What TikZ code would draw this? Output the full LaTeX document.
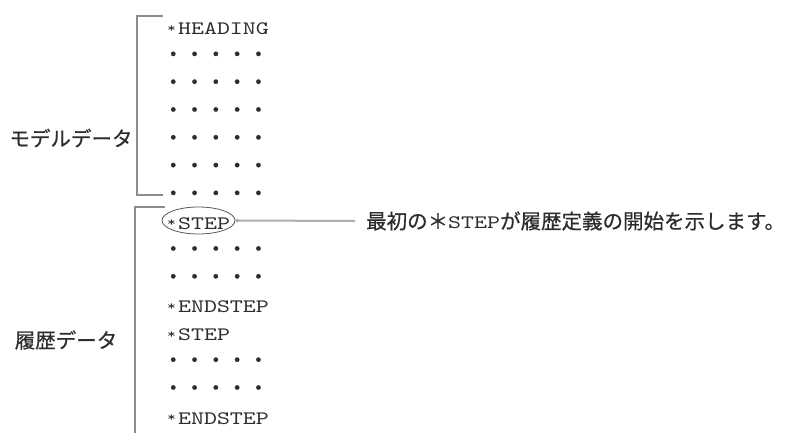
\documentclass[tikz,border=0pt]{standalone}
\usepackage{fontspec}
\usepackage{tikz}
\usetikzlibrary{arrows.meta,positioning,calc,shapes.geometric}
\newfontfamily\cjk[FakeBold=0.6]{Noto Sans CJK JP}
\newfontfamily\mono[FakeStretch=1.3]{lmmono10-regular.otf}
\newcommand\kwstar{\makebox[12.9pt][c]{\fontsize{13}{13}\selectfont\raisebox{2.5pt}{*}}}
\definecolor{brk}{RGB}{140,140,140}
\definecolor{ink}{RGB}{45,45,45}

\begin{document}
\begin{tikzpicture}[x=1pt,y=-1pt,
  kw/.style={anchor=west,inner sep=0pt,text=ink,font=\mono\fontsize{19}{22}\selectfont},
  dotrow/.style={anchor=west,inner sep=0pt,text=ink,font=\cjk\fontsize{21.3}{22}\selectfont},
  side/.style={inner sep=0pt,text=ink,font=\cjk\fontsize{20.5}{22}\selectfont},
  bracket/.style={brk,line width=1.4pt},
  callout/.style={brk!70,line width=2pt}]
\useasboundingbox (0,0) rectangle (789,433);
% list rows
\node[kw] (head) at (165,29) {\kwstar HEADING};
\foreach \i in {1,...,6,8,9,12,13}
  \node[dotrow] (row\i) at (162.4,{29+27.8*\i}) {・・・・・};
\node[kw] (step1) at (165,223.6) {\kwstar STEP};
\node[kw] (end1) at (165,307) {\kwstar ENDSTEP};
\node[kw] (step2) at (165,334.8) {\kwstar STEP};
\node[kw] (end2) at (165,418.2) {\kwstar ENDSTEP};
% brackets and their labels
\draw[bracket] (163,16) -- (137,16) -- (137,195) -- (163,195);
\draw[bracket] (165,207) -- (135,207) -- (135,433);
\node[side] (model) at (71,138) {モデルデータ};
\node[side] (hist) at (66,340) {履歴データ};
% first STEP marked, with its note
\node[draw=ink!80,ellipse,line width=0.8pt,minimum width=73pt,minimum height=27pt] (stepmark) at (198.5,220.5) {};
\node[anchor=west,inner sep=0pt,text=ink,font=\cjk\fontsize{20.5}{22}\selectfont] (note) at (366,221)
  {最初の＊{\mono\fontsize{19}{22}\selectfont STEP}が履歴定義の開始を示します。};
\coordinate[left=11pt of note.west] (noteend);
\draw[callout,{Circle[length=3.5pt]}-] (stepmark.east) -- (noteend);
\end{tikzpicture}
\end{document}
